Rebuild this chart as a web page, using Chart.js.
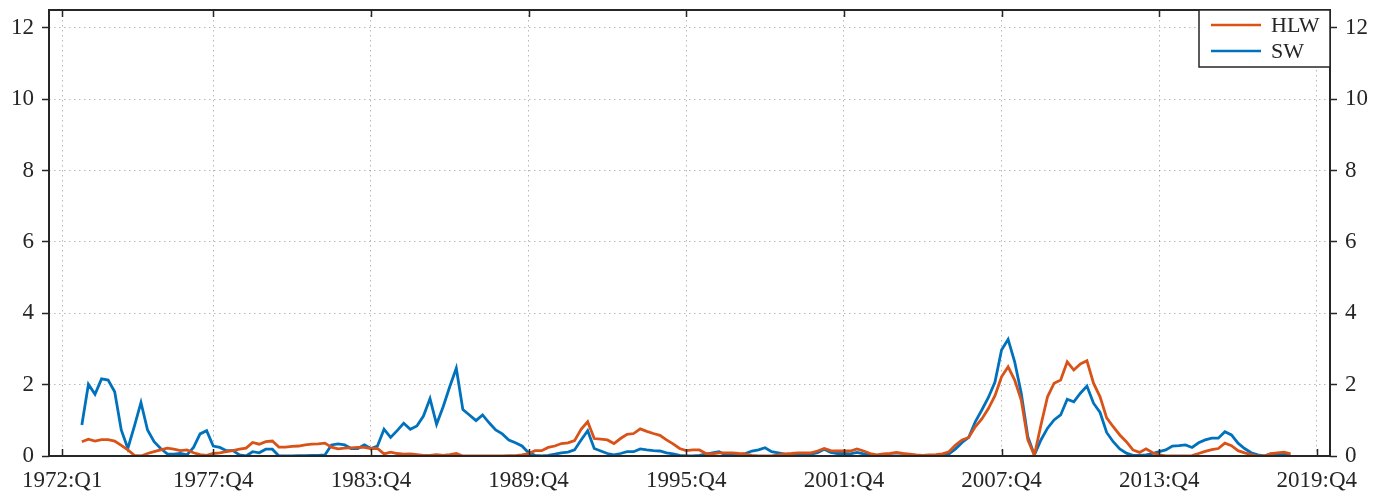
<!DOCTYPE html>
<html>
<head>
<meta charset="utf-8">
<script src="https://cdn.jsdelivr.net/npm/chart.js@4/dist/chart.umd.min.js"></script>
<style>
  html, body { margin: 0; padding: 0; background: #fff; }
  #wrap { width: 1389px; height: 495px; }
</style>
</head>
<body>
<div id="wrap"><canvas id="myChart" width="1389" height="495"></canvas></div>
<script>
// first quarter with data: 1972:Q4
const startQuarter = '1972:Q4';

const tickLabels = ['1972:Q1', '1977:Q4', '1983:Q4', '1989:Q4', '1995:Q4', '2001:Q4', '2007:Q4', '2013:Q4', '2019:Q4'];
const yTicks = [0, 2, 4, 6, 8, 10, 12];

const hlw = [
  0.40, 0.47, 0.42, 0.46, 0.46, 0.42, 0.30, 0.17, 0.02, 0.00,
  0.07, 0.12, 0.17, 0.22, 0.19, 0.15, 0.17, 0.09, 0.04, 0.02,
  0.07, 0.09, 0.12, 0.15, 0.19, 0.22, 0.38, 0.33, 0.40, 0.42,
  0.25, 0.25, 0.27, 0.28, 0.31, 0.33, 0.34, 0.36, 0.25, 0.20,
  0.22, 0.23, 0.24, 0.24, 0.21, 0.21, 0.06, 0.11, 0.07, 0.05,
  0.06, 0.04, 0.02, 0.02, 0.04, 0.02, 0.04, 0.07, 0.00, 0.00,
  0.00, 0.00, 0.00, 0.00, 0.00, 0.01, 0.01, 0.03, 0.07, 0.15,
  0.15, 0.24, 0.28, 0.35, 0.37, 0.43, 0.75, 0.96, 0.49, 0.47,
  0.45, 0.35, 0.49, 0.61, 0.63, 0.76, 0.69, 0.63, 0.58, 0.45,
  0.34, 0.21, 0.15, 0.17, 0.17, 0.07, 0.06, 0.09, 0.09, 0.09,
  0.07, 0.06, 0.02, 0.00, 0.00, 0.00, 0.03, 0.06, 0.07, 0.09,
  0.09, 0.09, 0.14, 0.21, 0.15, 0.14, 0.14, 0.14, 0.20, 0.14,
  0.07, 0.03, 0.06, 0.07, 0.10, 0.07, 0.05, 0.03, 0.02, 0.03,
  0.04, 0.06, 0.12, 0.31, 0.45, 0.52, 0.82, 1.04, 1.33, 1.69,
  2.22, 2.50, 2.13, 1.57, 0.45, 0.02, 0.87, 1.66, 2.04, 2.13,
  2.64, 2.41, 2.58, 2.67, 2.04, 1.66, 1.07, 0.82, 0.59, 0.40,
  0.17, 0.10, 0.20, 0.09, 0.03, 0.00, 0.00, 0.00, 0.00, 0.01,
  0.07, 0.13, 0.18, 0.21, 0.36, 0.29, 0.15, 0.09, 0.04, 0.00,
  0.00, 0.07, 0.09, 0.11, 0.06
];

const sw = [
  0.87, 2.01, 1.73, 2.16, 2.13, 1.80, 0.73, 0.21, 0.84, 1.50,
  0.73, 0.40, 0.21, 0.06, 0.05, 0.07, 0.03, 0.24, 0.62, 0.71,
  0.28, 0.24, 0.15, 0.15, 0.03, 0.00, 0.12, 0.09, 0.19, 0.19,
  0.00, 0.00, 0.00, 0.01, 0.01, 0.02, 0.02, 0.03, 0.31, 0.34,
  0.31, 0.21, 0.21, 0.31, 0.21, 0.28, 0.75, 0.52, 0.71, 0.92,
  0.75, 0.84, 1.12, 1.61, 0.89, 1.38, 1.94, 2.46, 1.30, 1.15,
  0.99, 1.15, 0.93, 0.73, 0.62, 0.45, 0.37, 0.28, 0.09, 0.02,
  0.00, 0.02, 0.05, 0.09, 0.11, 0.17, 0.45, 0.71, 0.21, 0.14,
  0.07, 0.03, 0.07, 0.12, 0.12, 0.20, 0.17, 0.15, 0.14, 0.09,
  0.06, 0.02, 0.00, 0.00, 0.02, 0.05, 0.09, 0.12, 0.03, 0.03,
  0.03, 0.07, 0.14, 0.17, 0.23, 0.12, 0.09, 0.05, 0.02, 0.03,
  0.03, 0.05, 0.09, 0.19, 0.10, 0.07, 0.07, 0.06, 0.10, 0.06,
  0.02, 0.00, 0.00, 0.00, 0.00, 0.00, 0.00, 0.00, 0.02, 0.02,
  0.02, 0.03, 0.06, 0.20, 0.38, 0.52, 0.96, 1.29, 1.64, 2.07,
  2.97, 3.27, 2.64, 1.76, 0.54, 0.03, 0.45, 0.78, 1.01, 1.15,
  1.59, 1.52, 1.76, 1.96, 1.48, 1.22, 0.66, 0.40, 0.20, 0.08,
  0.02, 0.02, 0.03, 0.07, 0.12, 0.17, 0.28, 0.29, 0.31, 0.24,
  0.37, 0.45, 0.50, 0.50, 0.68, 0.59, 0.36, 0.21, 0.09, 0.03,
  0.00, 0.06, 0.06, 0.06, 0.00
];

// quarter label -> index counted from 1972:Q1
const quarterIndex = (s) => {
  const [y, q] = s.split(':Q');
  return (parseInt(y) - 1972) * 4 + parseInt(q) - 1;
};

const toPoints = (arr) => {
  const s = quarterIndex(startQuarter);
  return arr.map((v, i) => ({ x: s + i, y: v }));
};

const FONT = 'Liberation Serif, Times New Roman, serif';
const INK = '#262626';

// frame + inward x ticks
const framePlugin = {
  id: 'frame',
  afterDatasetsDraw(chart) {
    const { ctx, chartArea: a, scales } = chart;
    ctx.save();
    ctx.strokeStyle = INK;
    ctx.lineWidth = 1.5;
    scales.x.ticks.forEach(t => {
      const px = Math.round(scales.x.getPixelForValue(t.value)) + 0.5;
      ctx.beginPath();
      ctx.moveTo(px, a.bottom); ctx.lineTo(px, a.bottom - 7);
      ctx.moveTo(px, a.top); ctx.lineTo(px, a.top + 7);
      ctx.stroke();
    });
    ctx.lineWidth = 2;
    ctx.strokeRect(a.left, a.top, a.right - a.left, a.bottom - a.top);
    ctx.restore();
  }
};

// legend box in the top-right corner of the plot
const boxLegend = {
  id: 'boxLegend',
  afterDraw(chart) {
    const { ctx, chartArea: a } = chart;
    const w = 131, h = 57;
    const x0 = a.right - w, y0 = a.top;
    ctx.save();
    ctx.fillStyle = '#fff';
    ctx.fillRect(x0, y0, w, h);
    ctx.strokeStyle = INK;
    ctx.lineWidth = 1.5;
    ctx.strokeRect(x0, y0, w, h);
    chart.data.datasets.forEach((ds, i) => {
      const yy = y0 + 15 + i * 26;
      ctx.strokeStyle = ds.borderColor;
      ctx.lineWidth = 2.5;
      ctx.beginPath();
      ctx.moveTo(x0 + 12, yy); ctx.lineTo(x0 + 62, yy);
      ctx.stroke();
      ctx.fillStyle = INK;
      ctx.font = '22px ' + FONT;
      ctx.textBaseline = 'middle';
      ctx.fillText(ds.label, x0 + 72, yy + 1);
    });
    ctx.restore();
  }
};

const yAxis = (pos, width) => ({
  type: 'linear',
  position: pos,
  min: 0,
  max: 12.5,
  afterBuildTicks: (scale) => { scale.ticks = yTicks.map(v => ({ value: v })); },
  afterFit: (scale) => {
    scale.width = width;
    scale.paddingTop = 0;
    scale.paddingBottom = 0;
  },
  grid: {
    display: true,
    drawOnChartArea: pos === 'left',
    color: 'rgba(0,0,0,0.28)',
    lineWidth: 1,
    tickLength: 7,
    tickColor: INK,
    tickWidth: 1.5
  },
  border: { display: false, dash: [1.5, 3.5] },
  ticks: {
    color: INK,
    padding: 8,
    font: { family: FONT, size: 23 },
    callback: (v) => v
  }
});

const ctx = document.getElementById('myChart');
new Chart(ctx, {
  type: 'line',
  data: {
    datasets: [
      {
        label: 'HLW',
        data: toPoints(hlw),
        borderColor: '#D95319',
        borderWidth: 2.8,
        pointRadius: 0,
        tension: 0,
        fill: false
      },
      {
        label: 'SW',
        data: toPoints(sw),
        borderColor: '#0072BD',
        borderWidth: 2.8,
        pointRadius: 0,
        tension: 0,
        fill: false
      }
    ]
  },
  options: {
    responsive: false,
    animation: false,
    layout: { padding: { top: 10, left: 0, right: 0, bottom: 0 } },
    plugins: {
      legend: { display: false },
      tooltip: { enabled: false }
    },
    scales: {
      x: {
        type: 'linear',
        min: -2,
        max: 193,
        afterBuildTicks: (scale) => { scale.ticks = tickLabels.map(l => ({ value: quarterIndex(l) })); },
        afterFit: (scale) => {
          scale.height = 39;
          scale.paddingLeft = 0;
          scale.paddingRight = 0;
        },
        grid: {
          color: 'rgba(0,0,0,0.28)',
          lineWidth: 1,
          drawTicks: false
        },
        border: { display: false, dash: [1.5, 3.5] },
        ticks: {
          color: INK,
          padding: 11,
          maxRotation: 0,
          autoSkip: false,
          font: { family: FONT, size: 23 },
          callback: (v) => tickLabels.find(l => quarterIndex(l) === v) || ''
        }
      },
      y: yAxis('left', 49),
      y2: yAxis('right', 59)
    }
  },
  plugins: [framePlugin, boxLegend]
});
</script>
</body>
</html>
